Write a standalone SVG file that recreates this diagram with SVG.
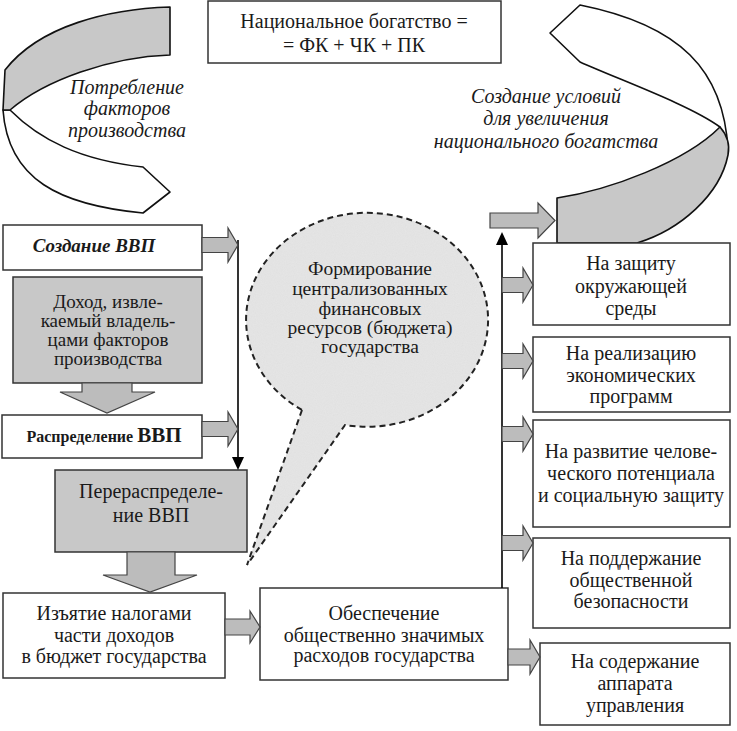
<svg xmlns="http://www.w3.org/2000/svg" width="737" height="731" viewBox="0 0 737 731">
<style>
  text { font-family: 'Liberation Serif', 'Times New Roman', serif; font-size: 20px; fill: #1a1a1a; text-anchor: middle; }
  .it { font-style: italic; }
  .s19 { font-size: 19px; }
  .s195 { font-size: 19.5px; }
  .box { fill: #ffffff; stroke: #333333; stroke-width: 1.5; }
  .gbox { fill: #c8c8c8; stroke: #333333; stroke-width: 1.5; }
  .arr { fill: #bcbcbc; stroke: #444444; stroke-width: 1.2; }
  .rib { stroke: #111111; stroke-width: 1.6; stroke-linejoin: round; }
  .line { stroke: #000000; stroke-width: 1.6; fill: none; }
</style>
<defs>
  <filter id="speckle" x="0" y="0" width="100%" height="100%">
    <feTurbulence type="fractalNoise" baseFrequency="0.9" numOctaves="2" seed="3" result="n"/>
    <feColorMatrix type="matrix" in="n" values="0 0 0 0 0.88  0 0 0 0 0.88  0 0 0 0 0.88  0 0 0 0.35 0" result="c"/>
    <feComposite in="c" in2="SourceGraphic" operator="in" result="cc"/>
    <feMerge><feMergeNode in="SourceGraphic"/><feMergeNode in="cc"/></feMerge>
  </filter>
</defs>
<rect width="737" height="731" fill="#ffffff"/>

<g id="title">
  <rect x="208" y="1" width="293" height="62" class="box" stroke-width="2"/>
  <text x="354" y="28">Национальное богатство =</text>
  <text x="354" y="52">= ФК + ЧК + ПК</text>
</g>

<g id="ribbon-left">
  <path class="rib" fill="#ffffff" d="M10,110 C40,140 80,160 143,167 L170,192 L143,213 C60,205 8,180 3,110 Z"/>
  <path class="rib" fill="#c8c8c8" d="M170,7 C110,9 40,25 5,70 L3,110 L10,110 C45,80 110,57 170,55 Z"/>
  <text class="it" x="127" y="94">Потребление</text>
  <text class="it" x="127" y="115">факторов</text>
  <text class="it" x="127" y="137">производства</text>
</g>

<g id="ribbon-right">
  <path class="rib" fill="#ffffff" d="M720,127 C690,105 620,80 580,62 L550,33 L580,5 C680,25 724,70 728,150 Z"/>
  <path class="rib" fill="#c8c8c8" d="M557,198 C610,190 685,162 720,127 C727,135 730,145 728,155 C720,195 680,230 637,243 L557,243 Z"/>
  <text class="it" x="546" y="103">Создание условий</text>
  <text class="it" x="546" y="125">для увеличения</text>
  <text class="it" x="546" y="148">национального богатства</text>
</g>

<g id="sozdanie">
  <rect x="3" y="225" width="199" height="45" class="box"/>
  <text class="it s19" x="94" y="252" font-weight="bold">Создание ВВП</text>
</g>

<g id="dohod">
  <rect x="13" y="277" width="189" height="106" class="gbox"/>
  <text class="s19" x="108" y="308">Доход, извле-</text>
  <text class="s19" x="108" y="327">каемый владель-</text>
  <text class="s19" x="108" y="346">цами факторов</text>
  <text class="s19" x="108" y="365">производства</text>
</g>

<g id="raspredelenie">
  <rect x="2" y="415" width="200" height="43" class="box"/>
  <text x="104" y="442" font-weight="bold"><tspan style="font-size:16px">Распределение </tspan><tspan style="font-size:21px">ВВП</tspan></text>
</g>

<g id="pereraspredelenie">
  <rect x="55" y="470" width="192" height="82" class="gbox"/>
  <text x="151" y="498">Перераспределе-</text>
  <text x="151" y="522">ние ВВП</text>
</g>

<g id="izyatie">
  <rect x="3" y="593" width="222" height="85" class="box"/>
  <text x="114" y="620">Изъятие налогами</text>
  <text x="114" y="642">части доходов</text>
  <text x="114" y="663">в бюджет государства</text>
</g>

<g id="obespechenie">
  <rect x="260" y="588" width="248" height="92" class="box"/>
  <text x="384" y="620">Обеспечение</text>
  <text x="384" y="642">общественно значимых</text>
  <text x="384" y="662">расходов государства</text>
</g>

<g id="callout">
  <path d="M302,410 L247,565 L345,425 A121,107 0 1 0 302,410 Z" fill="#e0e0e0" filter="url(#speckle)"/>
  <path d="M302,410 L247,565 L345,425 A121,107 0 1 0 302,410 Z" fill="none" stroke="#222222" stroke-width="2" stroke-dasharray="6,4"/>
  <text class="s195" x="370" y="275">Формирование</text>
  <text class="s195" x="370" y="295">централизованных</text>
  <text class="s195" x="370" y="315">финансовых</text>
  <text class="s195" x="370" y="334">ресурсов (бюджета)</text>
  <text class="s195" x="370" y="353">государства</text>
</g>

<g id="r1">
  <rect x="533" y="243" width="197" height="82" class="box"/>
  <text x="631" y="270">На защиту</text>
  <text x="631" y="293">окружающей</text>
  <text x="631" y="315">среды</text>
</g>
<g id="r2">
  <rect x="533" y="337" width="197" height="75" class="box"/>
  <text x="631" y="360">На реализацию</text>
  <text x="631" y="382">экономических</text>
  <text x="631" y="403">программ</text>
</g>
<g id="r3">
  <rect x="533" y="420" width="197" height="107" class="box"/>
  <text x="631" y="458">На развитие челове-</text>
  <text x="631" y="480">ческого потенциала</text>
  <text x="631" y="502">и социальную защиту</text>
</g>
<g id="r4">
  <rect x="533" y="538" width="197" height="90" class="box"/>
  <text x="631" y="565">На поддержание</text>
  <text x="631" y="587">общественной</text>
  <text x="631" y="608">безопасности</text>
</g>
<g id="r5">
  <rect x="540" y="643" width="190" height="82" class="box"/>
  <text x="635" y="668">На содержание</text>
  <text x="635" y="690">аппарата</text>
  <text x="635" y="712">управления</text>
</g>

<g id="connectors">
  <line class="line" x1="238" y1="240" x2="238" y2="458"/>
  <polygon points="232,457 244,457 238,470" fill="#000000"/>
  <line class="line" x1="502" y1="588" x2="502" y2="244"/>
  <polygon points="496,245 508,245 502,232" fill="#000000"/>
  <path class="arr" d="M202,237.5 H228 V228 L238,245 L228,262 V252.5 H202 Z"/>
  <path class="arr" d="M202,421.5 H228 V412 L238,429 L228,446 V436.5 H202 Z"/>
  <path class="arr" d="M82,383 H132 V392 H155 L107,413 L60,392 H82 Z"/>
  <path class="arr" d="M127,552 H175 V575 H197 L150,592 L103,575 H127 Z"/>
  <path class="arr" d="M225,619 H250 V611 L260,627 L250,643 V635 H225 Z"/>
  <path class="arr" d="M490,213 H538 V203 L555,220.5 L538,238 V228 H490 Z"/>
  <path class="arr" d="M502,277.5 H523 V268 L533,285 L523,302 V292.5 H502 Z"/>
  <path class="arr" d="M502,353.5 H523 V344 L533,361 L523,378 V368.5 H502 Z"/>
  <path class="arr" d="M502,426.5 H523 V417 L533,434 L523,451 V441.5 H502 Z"/>
  <path class="arr" d="M502,535.5 H523 V526 L533,543 L523,560 V550.5 H502 Z"/>
  <path class="arr" d="M508,649 H530 V640 L540,657 L530,674 V665 H508 Z"/>
</g>
</svg>
